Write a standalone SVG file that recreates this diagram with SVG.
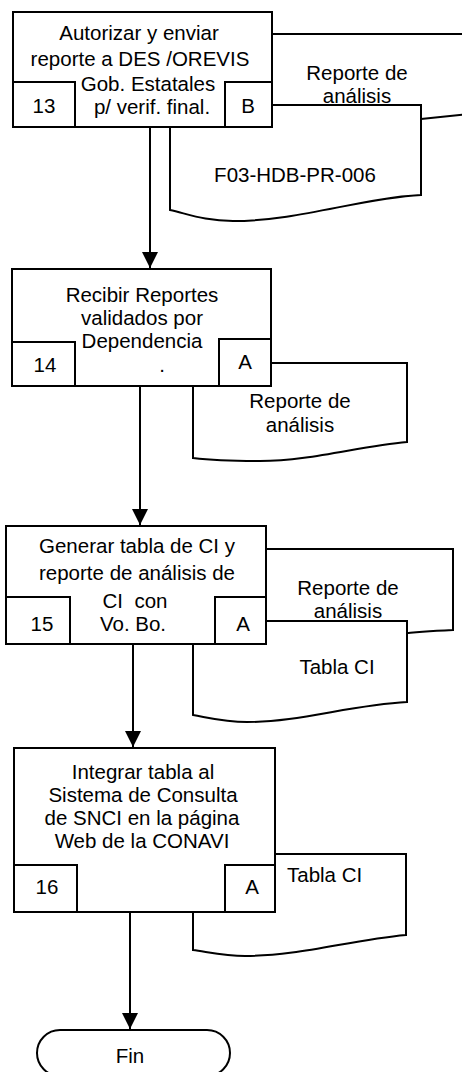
<svg xmlns="http://www.w3.org/2000/svg" width="462" height="1072" viewBox="0 0 462 1072">
<defs>
<style>
.s{fill:#fff;stroke:#000;stroke-width:2}
.c{fill:none;stroke:#000;stroke-width:2}
text{font-family:"Liberation Sans",Arial,sans-serif;font-size:20.5px;fill:#000}
.m{text-anchor:middle}
</style>
<marker id="ah" markerUnits="userSpaceOnUse" markerWidth="16" markerHeight="16" refX="16" refY="8" orient="auto">
<path d="M0,0 L16,8 L0,16 Z" fill="#000"/>
</marker>
</defs>
<rect width="462" height="1072" fill="#fff"/>

<g id="doc13b">
<path class="s" d="M200,34 H480 V113 L421,119 L200,125 Z"/>
<text class="m" x="357" y="80">Reporte de</text>
<text class="m" x="357" y="103">análisis</text>
</g>
<g id="doc13f">
<path class="s" d="M170,105 H421 V195 C360,198 300,221 233,221 C205,221 188,214 170,210 Z"/>
<text class="m" x="295" y="182">F03-HDB-PR-006</text>
</g>
<g id="n13">
<rect class="s" x="13" y="12" width="259" height="115"/>
<rect class="s" x="13" y="82" width="62" height="45"/>
<rect class="s" x="225" y="82" width="47" height="45"/>
<text class="m" x="139" y="40">Autorizar y enviar</text>
<text class="m" x="140" y="66">reporte a DES /OREVIS</text>
<text class="m" x="148" y="91">Gob. Estatales</text>
<text class="m" x="152" y="114">p/ verif. final.</text>
<text class="m" x="44" y="113">13</text>
<text class="m" x="248" y="113">B</text>
</g>

<g id="doc14">
<path class="s" d="M193,363 H407 V442 C360,446 310,461 260,461 C230,461 210,460 193,458 Z"/>
<text class="m" x="300" y="408">Reporte de</text>
<text class="m" x="300" y="432">análisis</text>
</g>
<g id="n14">
<rect class="s" x="12" y="269" width="259" height="117"/>
<rect class="s" x="12" y="342" width="63" height="44"/>
<rect class="s" x="219" y="339" width="52" height="47"/>
<text class="m" x="142" y="302">Recibir Reportes</text>
<text class="m" x="142" y="325">validados por</text>
<text class="m" x="142" y="348">Dependencia</text>
<text class="m" x="162" y="372">.</text>
<text class="m" x="45" y="372">14</text>
<text class="m" x="245" y="369">A</text>
</g>

<g id="doc15b">
<path class="s" d="M200,549 H453 V630 C430,631 415,632 400,634 L200,640 Z"/>
<text class="m" x="348" y="595">Reporte de</text>
<text class="m" x="348" y="618">análisis</text>
</g>
<g id="doc15f">
<path class="s" d="M193,621 H407 V702 C350,705 300,722 247,722 C225,722 210,718 193,715 Z"/>
<text class="m" x="337" y="674">Tabla CI</text>
</g>
<g id="n15">
<rect class="s" x="6" y="526" width="260" height="118"/>
<rect class="s" x="6" y="597" width="64" height="47"/>
<rect class="s" x="215" y="597" width="51" height="47"/>
<text class="m" x="137" y="553">Generar tabla de CI y</text>
<text class="m" x="137" y="580">reporte de análisis de</text>
<text class="m" x="135" y="608" xml:space="preserve">CI  con</text>
<text class="m" x="133" y="631">Vo. Bo.</text>
<text class="m" x="42" y="631">15</text>
<text class="m" x="243" y="631">A</text>
</g>

<g id="doc16">
<path class="s" d="M193,854 H406 V935 C350,940 300,956 245,956 C225,956 208,952 193,950 Z"/>
<text x="287" y="882">Tabla CI</text>
</g>
<g id="n16">
<rect class="s" x="14" y="748" width="261" height="164"/>
<rect class="s" x="14" y="865" width="63" height="47"/>
<rect class="s" x="225" y="865" width="50" height="47"/>
<text class="m" x="143" y="779">Integrar tabla al</text>
<text class="m" x="143" y="802">Sistema de Consulta</text>
<text class="m" x="142" y="825">de SNCI en la página</text>
<text class="m" x="142" y="848">Web de la CONAVI</text>
<text class="m" x="47" y="894">16</text>
<text class="m" x="252" y="894">A</text>
</g>

<g id="fin">
<rect class="s" x="37" y="1030" width="193" height="46" rx="23" ry="23"/>
<text class="m" x="130" y="1063">Fin</text>
</g>

<g id="connectors">
<line class="c" x1="150" y1="128" x2="150" y2="268" marker-end="url(#ah)"/>
<line class="c" x1="140" y1="387" x2="140" y2="525" marker-end="url(#ah)"/>
<line class="c" x1="133" y1="645" x2="133" y2="747" marker-end="url(#ah)"/>
<line class="c" x1="130" y1="913" x2="130" y2="1029" marker-end="url(#ah)"/>
</g>
</svg>
